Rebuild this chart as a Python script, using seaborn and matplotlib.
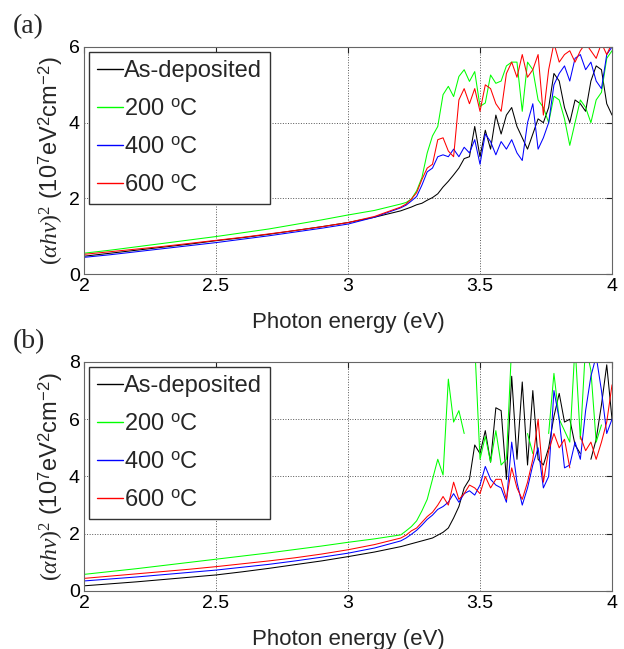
import numpy as np
import pandas as pd
import matplotlib.pyplot as plt
from matplotlib.lines import Line2D
import seaborn as sns

sns.set_theme(style="white")
plt.rcParams['font.family'] = ['Liberation Sans', 'DejaVu Sans']
plt.rcParams['mathtext.fontset'] = 'custom'
plt.rcParams['mathtext.rm'] = 'Liberation Serif'
plt.rcParams['mathtext.it'] = 'Liberation Serif:italic'
plt.rcParams['mathtext.sf'] = 'Liberation Sans'
plt.rcParams['lines.linewidth'] = 0.75

# photon energy grid (eV): coarse on the smooth part, finer where the data gets noisy
energy = np.concatenate([np.arange(2.0, 3.15, 0.1), np.arange(3.2, 4.001, 0.02)])
nan = np.nan

# panel (a), values in 1e7 eV^2 cm^-2
a_asdep = [0.47, 0.55, 0.63, 0.71, 0.79, 0.88, 0.96, 1.05, 1.15, 1.25, 1.36, 1.50,
           1.67, 1.72, 1.77, 1.83, 1.87, 1.95, 2.02, 2.12, 2.30, 2.45,
           2.62, 2.80, 3.05, 3.10, 3.90, 3.10, 3.80, 3.30, 4.20, 3.70,
           4.20, 4.40, 3.90, 3.60, 3.30, 3.70, 4.10, 4.00, 4.40, 5.30,
           5.10, 4.40, 4.00, 4.60, 4.50, 4.30, 5.10, 5.50, 5.40, 4.50, 4.20]
a_200 = [0.55, 0.63, 0.72, 0.81, 0.90, 0.99, 1.09, 1.19, 1.31, 1.43, 1.56, 1.68,
         1.85, 1.89, 1.98, 2.20, 2.55, 3.20, 3.65, 3.90, 4.74, 4.96,
         4.69, 5.22, 5.40, 5.09, 5.35, 4.43, 4.52, 5.26, 5.04, 5.10,
         5.50, 5.60, 5.60, 4.30, 5.60, 5.40, 4.60, 4.40, 4.00, 4.70,
         4.60, 4.10, 3.40, 4.00, 4.60, 4.40, 4.00, 4.60, 4.80, 5.70, 5.90]
a_400 = [0.44, 0.51, 0.59, 0.67, 0.75, 0.83, 0.92, 1.01, 1.11, 1.21, 1.32, 1.50,
         1.75, 1.82, 1.93, 2.05, 2.35, 2.70, 2.80, 3.10, 3.15, 3.10,
         3.30, 3.10, 3.35, 3.20, 3.55, 2.90, 3.70, 3.50, 3.15, 3.50,
         3.30, 3.55, 3.20, 3.00, 4.00, 4.50, 3.30, 3.60, 4.00, 5.00,
         5.30, 5.50, 5.10, 5.70, 5.80, 5.40, 5.60, 5.10, 4.90, 5.80, 6.00]
a_600 = [0.52, 0.59, 0.66, 0.73, 0.81, 0.89, 0.97, 1.06, 1.15, 1.25, 1.36, 1.52,
         1.77, 1.85, 1.98, 2.15, 2.50, 2.80, 2.90, 3.55, 3.60, 3.25,
         3.10, 4.60, 4.90, 4.50, 4.90, 4.30, 5.00, 4.90, 4.50, 4.30,
         5.30, 5.60, 5.20, 5.80, 5.20, 5.40, 5.80, 4.20, 5.40, 6.10,
         5.60, 5.80, 5.90, 5.60, 5.90, 6.10, 5.90, 5.70, 6.10, 5.80, 6.10]

# panel (b); nan marks the breaks in the measured curves
b_asdep = [0.18, 0.25, 0.32, 0.40, 0.48, 0.56, 0.67, 0.79, 0.92, 1.05, 1.20, 1.36,
           1.55, 1.60, 1.65, 1.70, 1.75, 1.80, 1.85, 1.95, 2.05, 2.20,
           2.55, 2.95, 3.60, 3.90, 5.10, 4.80, 5.60, 4.50, 6.40, 6.30,
           3.90, 7.50, 4.60, 7.30, 4.40, 7.00, 4.60, 4.40, 5.00, 6.10,
           6.90, 5.90, 6.00, 5.10, 4.80, nan, 4.60, 5.30, 6.50, 7.90, 6.00]
b_200 = [0.58, 0.68, 0.78, 0.89, 1.00, 1.11, 1.22, 1.33, 1.45, 1.57, 1.70, 1.82,
         1.96, 2.10, 2.25, 2.45, 2.80, 3.20, 3.90, 4.60, 4.05, 7.40,
         5.90, 6.30, 5.50, nan, 8.60, 4.60, 5.40, 4.50, 5.60, 4.40,
         4.60, 8.60, nan, nan, 5.50, 4.80, nan, nan, 5.50, 7.60,
         6.00, 5.60, 5.20, 8.60, 5.30, 8.60, 7.70, 5.20, 5.80, nan, nan]
b_400 = [0.35, 0.42, 0.49, 0.57, 0.65, 0.73, 0.83, 0.93, 1.05, 1.18, 1.32, 1.50,
         1.75, 1.85, 1.98, 2.12, 2.30, 2.50, 2.65, 2.85, 2.95, 3.10,
         3.40, 3.10, 3.40, 3.50, 3.35, 3.70, 4.35, 3.90, 3.70, 3.60,
         3.10, 5.20, 3.80, 3.00, 3.60, 4.40, 5.00, 3.60, 4.00, 7.00,
         6.00, 4.30, 4.40, 5.20, 4.60, 6.30, 7.50, 8.20, 7.00, 5.50, 6.00]
b_600 = [0.44, 0.52, 0.60, 0.68, 0.76, 0.85, 0.95, 1.05, 1.16, 1.29, 1.44, 1.62,
         1.85, 1.95, 2.10, 2.20, 2.40, 2.60, 2.75, 3.00, 3.30, 3.00,
         3.80, 3.20, 3.40, 3.70, 3.60, 3.40, 4.00, 3.60, 3.90, 3.90,
         3.20, 4.30, 3.60, 3.20, 3.80, 4.60, 6.00, 3.80, 4.90, 5.50,
         5.00, 5.30, 4.30, nan, 5.40, 4.90, 5.20, 4.60, 5.20, 5.90, 7.20]

series_names = ['As-deposited', '200 $^{\\mathsf{o}}$C', '400 $^{\\mathsf{o}}$C', '600 $^{\\mathsf{o}}$C']
colors = ['#000000', '#00ff00', '#0000ff', '#ff0000']

x_ticks = [2, 2.5, 3, 3.5, 4]
x_ticklabels = ['2', '2.5', '3', '3.5', '4']
a_yticks = [0, 2, 4, 6]
b_yticks = [0, 2, 4, 6, 8]

ylabel = r'$(\alpha h\nu)^2$ (10$^{\mathsf{7}}$eV$^{\mathsf{2}}$cm$^{\mathsf{-2}}$)'


def long_frame(curves):
    parts = []
    for name, vals in zip(series_names, curves):
        v = np.asarray(vals, dtype=float)
        parts.append(pd.DataFrame({'energy': energy, 'value': v, 'series': name,
                                   'seg': np.cumsum(np.isnan(v))}))
    return pd.concat(parts, ignore_index=True).dropna()


def draw_panel(ax, curves, yticks, tag):
    df = long_frame(curves)
    sns.lineplot(data=df, x='energy', y='value', hue='series', hue_order=series_names,
                 palette=dict(zip(series_names, colors)), units='seg', estimator=None,
                 sort=False, linewidth=0.75, legend=False, ax=ax)
    ax.set_xlim(2, 4)
    ax.set_ylim(yticks[0], yticks[-1])
    ax.set_xticks(x_ticks)
    ax.set_xticklabels(x_ticklabels)
    ax.set_yticks(yticks)
    ax.set_yticklabels([str(t) for t in yticks])
    ax.tick_params(direction='in', top=True, right=True, length=4, width=0.8,
                   labelsize=14, pad=3, colors='#222222', labelcolor='black')
    for s in ax.spines.values():
        s.set_color('#666666')
        s.set_linewidth(0.8)
    ax.grid(True, linestyle=':', color='#555555', linewidth=0.7)
    ax.set_xlabel('Photon energy (eV)', fontsize=16, labelpad=12)
    ax.set_ylabel(ylabel, fontsize=17, labelpad=3)
    handles = [Line2D([], [], color=c, lw=1.0) for c in colors]
    ax.legend(handles, series_names, loc='upper left', fontsize=17, frameon=True,
              fancybox=False, edgecolor='#333333', framealpha=1, borderaxespad=0.2,
              borderpad=0.35, labelspacing=0.68, handlelength=1.1, handletextpad=0.05)
    ax.figure.text(0.021, ax.get_position().y1 + 0.031, tag, fontsize=20,
                   family='Liberation Serif', va='center', ha='left')


fig = plt.figure(figsize=(6.24, 6.49), dpi=100)
ax_a = fig.add_axes([0.1346, 0.5778, 0.8462, 0.3498])
ax_b = fig.add_axes([0.1346, 0.0894, 0.8462, 0.3529])

draw_panel(ax_a, [a_asdep, a_200, a_400, a_600], a_yticks, '(a)')
draw_panel(ax_b, [b_asdep, b_200, b_400, b_600], b_yticks, '(b)')

fig.savefig('out.png', dpi=100)
